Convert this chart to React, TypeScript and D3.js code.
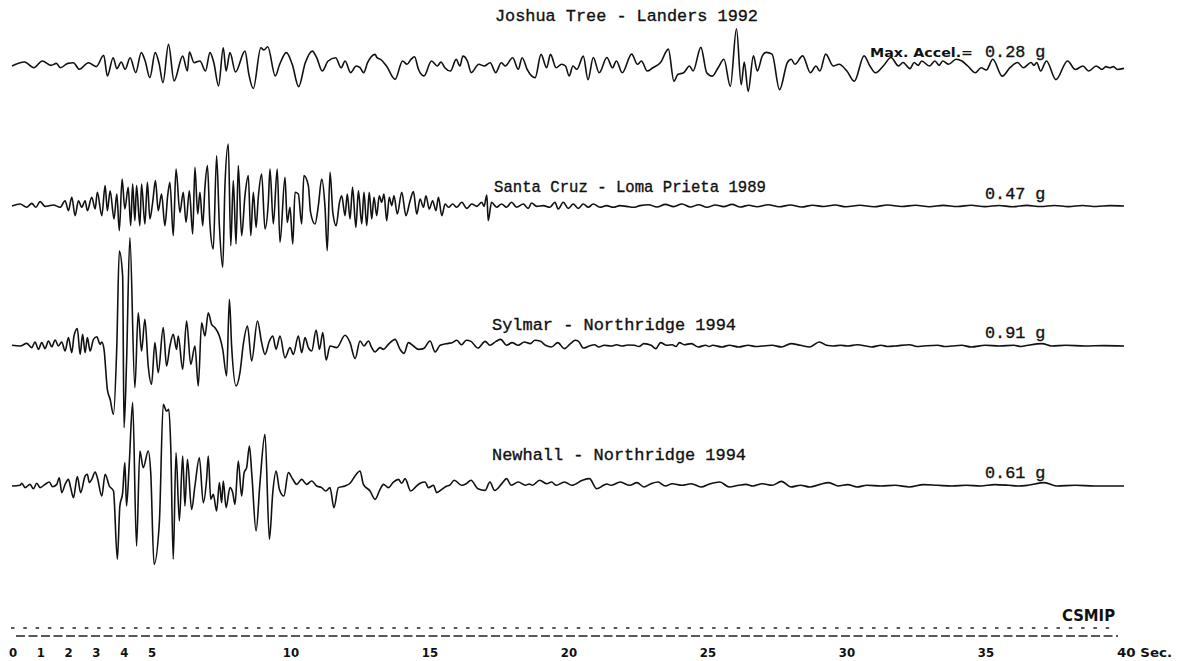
import React from 'react';
import * as d3 from 'd3';

// ---------------- data (time in s, acceleration in g) ----------------
const DURATION = 40;
const TICK_SECONDS = [0, 1, 2, 3, 4, 5, 10, 15, 20, 25, 30, 35];
const RECORD_NAMES = [
  'Joshua Tree - Landers 1992',
  'Santa Cruz - Loma Prieta 1989',
  'Sylmar - Northridge 1994',
  'Newhall - Northridge 1994',
];
const PEAK_ACCEL_G = [0.28, 0.47, 0.91, 0.61];

const joshuaTree: [number, number][] = [
  [0.0, 0], [0.45, 0.030], [0.79, -0.013], [1.09, 0.038], [1.40, 0.005], [1.60, 0.020], [1.74, -0.013],
  [2.01, 0.020], [2.21, 0.025], [2.42, -0.025], [2.75, 0.025], [3.03, -0.005], [3.30, 0.081], [3.43, -0.075],
  [3.64, 0.063], [3.77, -0.020], [3.93, 0.030], [4.07, -0.025], [4.25, 0.063], [4.45, -0.050], [4.65, 0.101],
  [4.79, 0.038], [4.96, -0.088], [5.15, 0.101], [5.29, 0.020], [5.43, -0.126], [5.63, 0.164], [5.83, -0.113],
  [6.14, 0.075], [6.31, -0.038], [6.38, 0.106], [6.55, 0.025], [6.76, 0.038], [6.96, -0.038], [7.12, 0.101],
  [7.26, 0.025], [7.43, -0.151], [7.60, 0.138], [7.70, -0.038], [7.84, 0.101], [8.04, -0.045], [8.38, 0.113],
  [8.52, -0.063], [8.68, -0.171], [8.95, 0.138], [9.06, 0.121], [9.20, 0.146], [9.47, -0.075], [9.63, 0.013],
  [9.87, 0.101], [10.08, 0.013], [10.31, -0.156], [10.55, 0.025], [10.80, 0.113], [10.96, 0.063], [11.16, -0.038],
  [11.37, 0.038], [11.64, 0.063], [11.84, -0.013], [11.98, 0.038], [12.18, -0.050], [12.38, 0], [12.52, -0.013],
  [12.65, -0.050], [12.79, 0.025], [13.06, 0.088], [13.13, 0.063], [13.26, 0.050], [13.47, 0], [13.78, -0.101],
  [14.05, 0.038], [14.21, 0.013], [14.35, 0.050], [14.48, 0.070], [14.62, -0.025], [14.82, -0.075], [15.09, 0.038],
  [15.30, 0], [15.43, 0.030], [15.57, -0.013], [15.77, -0.038], [15.98, 0.050], [16.11, 0], [16.22, 0.075],
  [16.38, 0.038], [16.52, -0.050], [16.79, 0.013], [16.99, 0], [17.20, 0.025], [17.40, -0.050], [17.60, 0.025],
  [17.74, 0], [18.01, 0.063], [18.21, -0.025], [18.35, 0.063], [18.53, -0.025], [18.69, -0.075], [18.82, -0.088],
  [19.03, 0.088], [19.23, -0.013], [19.37, 0.088], [19.57, -0.013], [19.77, 0.013], [19.91, 0], [20.04, -0.075],
  [20.18, 0], [20.32, -0.025], [20.55, 0.075], [20.72, -0.103], [20.91, 0.064], [21.12, -0.051], [21.40, 0.064],
  [21.60, -0.013], [21.74, 0.038], [21.95, -0.051], [22.29, 0.090], [22.50, 0.013], [22.64, 0.038], [22.85, -0.038],
  [23.05, -0.013], [23.33, 0.026], [23.61, 0.128], [23.81, -0.115], [23.95, -0.064], [24.16, -0.051], [24.37, 0],
  [24.50, -0.038], [24.78, 0.141], [24.99, -0.051], [25.19, -0.077], [25.40, -0.013], [25.61, 0.051], [25.84, -0.154],
  [26.06, 0.282], [26.23, -0.141], [26.34, 0.030], [26.48, -0.192], [26.67, 0.077], [26.81, -0.038], [26.99, 0.077],
  [27.13, 0.103], [27.34, 0.090], [27.61, -0.179], [27.89, 0.026], [28.03, 0.051], [28.16, 0.013], [28.44, 0.077],
  [28.72, -0.051], [28.92, 0], [29.06, -0.038], [29.27, 0.090], [29.54, 0], [29.75, 0.013], [30.03, -0.038],
  [30.30, -0.115], [30.65, 0.077], [30.86, 0], [31.06, -0.051], [31.34, 0], [31.62, 0.064], [31.89, 0],
  [32.05, 0.026], [32.30, -0.020], [32.45, 0.026], [32.60, 0.005], [32.72, 0.038], [33.00, 0], [33.20, 0.038],
  [33.35, 0.005], [33.48, 0.038], [33.69, 0.013], [33.96, 0.051], [34.17, 0.038], [34.38, 0], [34.65, -0.051],
  [34.86, -0.013], [35.05, -0.030], [35.28, 0.051], [35.62, -0.077], [35.90, -0.013], [36.17, 0.026], [36.38, -0.013],
  [36.66, 0.026], [36.76, 0.005], [36.86, 0.026], [37.00, -0.038], [37.21, 0.038], [37.55, -0.103], [37.97, 0.038],
  [38.25, -0.026], [38.52, 0], [38.73, -0.038], [39.00, 0], [39.21, -0.026], [39.35, -0.005], [39.49, -0.013],
  [39.62, -0.005], [39.76, -0.026], [40.0, -0.018],
];

const santaCruz: [number, number][] = [
  [0.0, 0], [0.29, 0.015], [0.53, -0.010], [0.71, 0.020], [0.86, -0.010], [1.01, 0.033], [1.19, -0.003],
  [1.49, 0.008], [1.73, -0.010], [1.91, 0.040], [2.03, -0.035], [2.15, 0.066], [2.27, -0.073], [2.39, 0.040],
  [2.51, -0.010], [2.63, 0.040], [2.71, -0.035], [2.87, 0.066], [2.99, -0.023], [3.07, 0.104], [3.23, -0.073],
  [3.35, 0.154], [3.43, -0.035], [3.53, 0.116], [3.67, -0.098], [3.77, 0.091], [3.86, -0.187], [3.96, 0.205],
  [4.06, -0.023], [4.18, 0.141], [4.27, -0.149], [4.34, 0.167], [4.42, -0.111], [4.48, 0.154], [4.60, -0.149],
  [4.66, 0.167], [4.78, -0.136], [4.87, 0.179], [4.96, -0.098], [5.06, 0.028], [5.16, 0.192], [5.26, -0.035],
  [5.38, 0.091], [5.50, -0.149], [5.60, 0.078], [5.68, 0.179], [5.80, -0.225], [5.90, 0.280], [6.04, -0.048],
  [6.16, 0.104], [6.26, -0.124], [6.38, 0.116], [6.50, -0.212], [6.58, 0.293], [6.68, -0.061], [6.76, 0.104],
  [6.86, -0.149], [6.94, 0.141], [7.03, 0.306], [7.12, -0.136], [7.24, -0.326], [7.36, 0.381], [7.46, -0.149],
  [7.58, -0.465], [7.66, 0.154], [7.78, 0.470], [7.87, -0.301], [7.96, 0.192], [8.06, -0.288], [8.14, 0.306],
  [8.26, -0.225], [8.38, 0.078], [8.50, 0.230], [8.59, -0.225], [8.68, 0.104], [8.78, -0.162], [8.86, 0.066],
  [8.98, 0.242], [9.10, -0.174], [9.22, 0.028], [9.28, 0.280], [9.40, -0.136], [9.54, 0.280], [9.64, -0.275],
  [9.82, 0.217], [9.90, -0.124], [10.00, -0.010], [10.10, -0.288], [10.18, 0.104], [10.30, 0.091], [10.42, -0.136],
  [10.50, 0.230], [10.66, 0.154], [10.74, -0.048], [10.90, -0.136], [11.02, 0.003], [11.14, 0.205], [11.26, -0.010],
  [11.34, -0.338], [11.44, 0.255], [11.54, -0.048], [11.66, -0.149], [11.78, 0.028], [11.86, 0.078], [11.98, -0.073],
  [12.06, 0.091], [12.16, -0.098], [12.25, 0.141], [12.37, -0.162], [12.46, 0.116], [12.58, -0.136], [12.66, 0.104],
  [12.76, -0.149], [12.85, 0.104], [12.94, -0.098], [13.02, 0.066], [13.12, -0.073], [13.21, 0.078], [13.30, 0.028],
  [13.38, 0.091], [13.48, -0.111], [13.57, 0.066], [13.66, 0.003], [13.74, 0.078], [13.86, -0.061], [14.02, 0.104],
  [14.17, -0.073], [14.32, 0.040], [14.44, 0.109], [14.56, -0.061], [14.68, 0.053], [14.80, -0.010], [14.89, 0.078],
  [15.01, -0.023], [15.13, 0.040], [15.25, -0.035], [15.34, 0.066], [15.46, -0.073], [15.58, 0.015], [15.70, -0.010],
  [15.85, 0.015], [16.00, -0.010], [16.18, 0.028], [16.36, -0.018], [16.54, 0.015], [16.72, -0.003], [16.90, 0.028],
  [16.98, -0.003], [17.08, 0.083], [17.13, -0.111], [17.25, 0.028], [17.43, -0.010], [17.61, 0.015], [17.79, -0.010],
  [17.97, 0.028], [18.15, -0.010], [18.39, 0.015], [18.57, -0.018], [18.69, 0.023], [18.87, -0.003], [19.11, 0.003],
  [19.35, -0.010], [19.53, 0.028], [19.65, -0.023], [19.83, 0.028], [20.01, -0.018], [20.19, 0.015], [20.37, -0.018],
  [20.55, 0.015], [20.73, -0.010], [20.91, 0.015], [21.15, -0.010], [21.39, 0.003], [21.63, -0.010], [21.87, 0.003],
  [22.11, -0.003], [22.35, -0.010], [22.59, 0.003], [22.90, 0.010], [23.20, -0.008], [23.50, 0.012], [23.80, -0.005],
  [24.10, 0.015], [24.40, -0.008], [24.70, 0.010], [25.00, -0.010], [25.30, 0.008], [25.60, -0.005], [25.90, 0.012],
  [26.20, -0.008], [26.50, 0.006], [26.80, -0.006], [27.20, 0.010], [27.60, -0.006], [28.00, 0.008], [28.40, -0.008],
  [28.80, 0.006], [29.20, -0.004], [29.60, 0.008], [30.00, -0.006], [30.50, 0.006], [31.00, -0.006], [31.50, 0.008],
  [32.00, -0.004], [32.50, 0.006], [33.00, -0.006], [33.50, 0.005], [34.00, -0.004], [34.50, 0.006], [35.00, -0.005],
  [35.50, 0.004], [36.00, -0.006], [36.50, 0.005], [37.00, -0.004], [37.50, 0.004], [38.00, -0.005], [38.50, 0.004],
  [39.00, -0.004], [39.50, 0.003], [40.0, 0],
];

const sylmar: [number, number][] = [
  [0.0, 0.006], [0.29, 0], [0.53, 0.022], [0.71, -0.014], [0.83, 0.034], [0.95, -0.028], [1.07, 0.028],
  [1.19, -0.022], [1.31, 0.042], [1.43, -0.006], [1.55, 0.050], [1.67, 0], [1.79, 0.034], [1.91, -0.042],
  [2.03, 0.070], [2.15, -0.056], [2.23, 0.084], [2.35, 0.146], [2.45, -0.070], [2.54, 0.098], [2.63, -0.056],
  [2.71, 0.070], [2.81, -0.042], [2.93, 0.056], [3.05, 0.078], [3.17, 0.014], [3.23, 0.034], [3.31, -0.028],
  [3.43, -0.364], [3.53, -0.448], [3.65, -0.574], [3.77, 0], [3.86, 0.798], [3.98, 0.588], [4.03, -0.686],
  [4.12, -0.140], [4.24, 0.910], [4.42, -0.350], [4.54, 0.280], [4.66, -0.042], [4.78, 0.224], [4.90, -0.168],
  [5.02, -0.322], [5.14, 0.028], [5.26, -0.224], [5.44, 0.154], [5.56, -0.168], [5.68, 0], [5.80, 0.098],
  [5.92, -0.028], [5.98, 0.084], [6.14, -0.196], [6.28, 0.210], [6.43, -0.154], [6.58, 0], [6.70, -0.336],
  [6.82, 0.196], [6.94, 0.084], [7.06, 0.280], [7.18, 0.182], [7.30, 0.154], [7.46, 0.084], [7.58, -0.028],
  [7.72, -0.252], [7.82, 0.392], [7.90, 0], [8.06, -0.336], [8.20, -0.224], [8.32, 0.014], [8.47, 0.168],
  [8.62, -0.126], [8.83, 0.210], [8.98, 0.028], [9.10, -0.070], [9.26, 0.042], [9.38, 0.084], [9.50, -0.028],
  [9.64, 0.084], [9.82, -0.098], [10.00, -0.014], [10.12, -0.070], [10.30, 0.084], [10.42, -0.056], [10.54, 0.070],
  [10.66, -0.014], [10.78, -0.042], [10.94, 0.134], [11.06, -0.028], [11.18, 0.112], [11.30, -0.118], [11.44, 0],
  [11.68, -0.014], [11.98, 0.090], [12.16, 0.028], [12.34, -0.106], [12.52, 0.042], [12.66, 0], [12.82, 0.042],
  [12.94, -0.014], [13.06, -0.050], [13.24, -0.014], [13.36, -0.028], [13.54, 0.014], [13.78, 0.056], [13.96, -0.028],
  [14.10, -0.062], [14.26, 0.028], [14.44, 0], [14.62, -0.028], [14.80, -0.022], [15.04, 0.042], [15.22, -0.050],
  [15.40, 0.006], [15.70, 0.022], [15.83, 0.028], [16.00, 0.048], [16.17, 0.011], [16.34, 0.048], [16.51, 0.039],
  [16.76, -0.017], [17.02, 0.039], [17.19, 0.006], [17.41, 0.039], [17.58, 0.056], [17.79, 0.006], [17.99, 0.028],
  [18.21, 0.006], [18.43, 0.034], [18.64, 0.020], [18.81, 0.048], [19.01, 0.039], [19.19, 0.006], [19.41, -0.008],
  [19.63, 0.028], [19.87, -0.022], [20.09, 0.020], [20.26, 0.048], [20.38, 0.039], [20.55, -0.017], [20.77, 0],
  [20.95, 0.010], [21.11, -0.008], [21.30, 0.006], [21.54, 0], [21.75, 0.010], [21.96, 0], [22.15, 0.008],
  [22.39, 0.006], [22.55, -0.004], [22.73, 0.020], [22.99, 0.006], [23.16, -0.022], [23.33, 0.028], [23.55, 0.006],
  [23.75, 0.011], [23.88, -0.004], [24.01, 0.028], [24.18, 0.011], [24.44, 0.020], [24.69, -0.008], [24.95, 0.006],
  [25.08, -0.004], [25.20, 0.006], [25.54, -0.008], [25.80, 0.006], [26.14, -0.008], [26.48, 0.006], [26.75, -0.004],
  [26.99, 0], [27.34, 0.006], [27.68, -0.008], [28.02, 0.020], [28.36, 0.006], [28.70, -0.008], [29.04, 0.034],
  [29.30, 0.006], [29.55, 0], [29.80, 0.006], [30.06, 0], [30.40, 0.011], [30.92, -0.008], [31.26, 0.006],
  [31.50, -0.004], [31.77, 0], [32.28, 0.011], [32.55, -0.004], [32.79, 0], [33.30, 0.006], [33.55, -0.004],
  [33.81, 0], [34.16, 0.006], [34.50, -0.008], [35.01, 0.006], [35.52, 0], [36.03, 0.006], [36.30, -0.004],
  [36.54, 0.006], [37.05, 0.020], [37.40, 0], [37.91, 0.006], [38.59, 0], [39.27, 0.003], [40.0, 0],
];

const newhall: [number, number][] = [
  [0.0, 0], [0.29, 0.005], [0.35, 0.020], [0.47, -0.012], [0.65, 0.012], [0.77, -0.020], [0.89, 0.020],
  [1.01, -0.012], [1.19, 0.012], [1.34, 0.029], [1.46, -0.005], [1.61, 0.012], [1.70, 0.061], [1.79, -0.049],
  [1.91, 0.012], [2.03, 0.049], [2.11, -0.012], [2.21, -0.086], [2.35, 0.069], [2.47, -0.049], [2.63, 0.074],
  [2.71, 0.086], [2.78, 0.025], [2.87, 0.049], [2.99, 0.103], [3.07, 0.061], [3.23, -0.074], [3.35, 0.086],
  [3.50, 0], [3.65, -0.037], [3.79, -0.539], [3.88, -0.147], [3.98, -0.049], [4.06, 0.172], [4.12, -0.147],
  [4.22, 0.172], [4.34, 0.613], [4.48, -0.441], [4.60, 0.257], [4.72, 0.135], [4.90, 0.257], [4.99, 0.098],
  [5.11, -0.576], [5.30, -0.270], [5.44, 0.600], [5.56, 0.551], [5.64, 0.564], [5.71, 0.294], [5.80, -0.539],
  [5.90, 0.245], [6.02, -0.257], [6.14, 0.221], [6.22, -0.147], [6.31, 0.196], [6.46, -0.172], [6.58, 0],
  [6.74, 0.208], [6.88, -0.123], [7.00, 0.049], [7.06, 0.221], [7.15, -0.098], [7.24, -0.061], [7.36, -0.184],
  [7.46, 0.025], [7.54, -0.123], [7.60, 0.037], [7.70, -0.159], [7.84, -0.012], [7.94, -0.049], [8.02, -0.135],
  [8.14, 0.184], [8.26, -0.074], [8.35, 0.098], [8.44, 0.135], [8.54, 0.294], [8.63, 0.074], [8.78, -0.331],
  [8.92, 0.025], [9.10, 0.380], [9.26, -0.392], [9.38, -0.049], [9.50, 0.110], [9.62, -0.025], [9.78, -0.074],
  [9.94, 0.098], [10.10, 0.049], [10.24, 0.012], [10.42, 0.049], [10.60, 0.012], [10.78, 0.037], [10.96, 0],
  [11.14, -0.012], [11.29, -0.037], [11.44, -0.012], [11.58, -0.159], [11.74, -0.012], [11.98, 0], [12.16, 0.020],
  [12.34, 0.074], [12.52, 0.110], [12.64, 0.012], [12.88, -0.037], [13.06, -0.098], [13.24, -0.025], [13.36, 0.012],
  [13.54, -0.012], [13.72, 0.029], [13.90, 0.049], [14.02, 0.020], [14.14, 0.054], [14.34, -0.037], [14.53, -0.005],
  [14.68, 0.020], [14.86, 0.029], [14.98, -0.012], [15.16, 0.005], [15.28, -0.049], [15.46, -0.025], [15.64, 0],
  [15.74, 0.005], [15.91, 0.042], [16.17, 0.005], [16.34, 0.017], [16.51, 0.042], [16.76, -0.020], [17.02, -0.032],
  [17.19, 0.029], [17.36, -0.032], [17.62, 0.017], [17.79, 0.054], [17.96, 0.005], [18.21, 0.029], [18.47, 0.005],
  [18.60, 0.015], [18.72, 0.005], [18.98, 0.042], [19.24, 0.017], [19.41, 0.029], [19.58, 0.005], [19.87, 0.029],
  [20.14, 0.005], [20.52, 0.042], [20.77, 0.054], [21.03, -0.020], [21.28, 0.005], [21.40, 0.015], [21.54, 0.005],
  [21.88, 0.029], [22.22, 0.005], [22.48, 0.025], [22.73, -0.007], [22.99, 0.017], [23.24, 0.029], [23.50, 0],
  [23.75, 0.017], [24.10, 0.005], [24.44, 0.017], [24.78, -0.007], [25.12, 0.017], [25.46, 0.029], [25.80, -0.007],
  [26.14, 0.005], [26.40, 0.012], [26.65, 0], [26.99, 0.017], [27.34, 0.005], [27.68, 0.034], [28.02, -0.007],
  [28.36, 0.005], [28.70, -0.007], [29.04, 0.010], [29.38, 0.025], [29.72, 0], [30.06, 0.010], [30.40, -0.007],
  [30.75, 0.005], [31.26, 0], [31.77, 0.005], [32.28, -0.007], [32.79, 0.010], [33.30, 0.005], [33.81, 0],
  [34.33, 0.005], [34.84, 0], [35.35, 0.010], [35.86, 0.005], [36.20, 0], [36.54, 0.005], [37.14, 0.025],
  [37.57, 0], [38.25, 0.005], [38.93, 0], [40.0, 0],
];

const RECORDS = [joshuaTree, santaCruz, sylmar, newhall];

// ---------------- layout ----------------
const W = 1181;
const H = 661;
const X_LEFT = 12;
const X_RIGHT = 1124;
const BASELINES = [66, 206, 346, 486];
const PX_PER_G = [132, 132, 119, 136];
const NAME_X = [495, 494, 492, 492];
const NAME_Y = [21, 192, 330, 460];
const NAME_WIDTH = [263, 272, 244, 254];
const PGA_Y = [57, 199, 338, 478];
const MONO = "'Liberation Mono', 'DejaVu Sans Mono', monospace";
const PLOT_FONT = "'DejaVu Sans Condensed', 'Liberation Sans Narrow', 'DejaVu Sans', sans-serif";

export default function App() {
  const x = d3.scaleLinear().domain([0, DURATION]).range([X_LEFT, X_RIGHT]);

  const paths = RECORDS.map((rec, i) => {
    const pga = PEAK_ACCEL_G[i];
    const y = d3
      .scaleLinear()
      .domain([-pga, pga])
      .range([BASELINES[i] + pga * PX_PER_G[i], BASELINES[i] - pga * PX_PER_G[i]]);
    const line = d3
      .line<[number, number]>()
      .x((d) => x(d[0]))
      .y((d) => y(d[1]))
      .curve(d3.curveMonotoneX);
    return line(rec) || '';
  });

  return (
    <svg
      width={W}
      height={H}
      viewBox={`0 0 ${W} ${H}`}
      style={{ position: 'absolute', left: 0, top: 0, background: '#fff' }}
    >
      <rect x={0} y={0} width={W} height={H} fill="#fff" />
      {paths.map((p, i) => (
        <path key={i} d={p} fill="none" stroke="#111" strokeWidth={1.6} strokeLinejoin="round" />
      ))}
      {RECORD_NAMES.map((name, i) => (
        <text
          key={name}
          x={NAME_X[i]}
          y={NAME_Y[i]}
          fontFamily={MONO}
          fontSize={16.8}
          fill="#111"
          stroke="#111"
          strokeWidth={0.35}
          textLength={NAME_WIDTH[i]}
          lengthAdjust="spacingAndGlyphs"
        >
          {name}
        </text>
      ))}
      {PEAK_ACCEL_G.map((g, i) => (
        <text
          key={'pga' + i}
          x={x(35)}
          y={PGA_Y[i]}
          fontFamily={MONO}
          fontSize={16.8}
          fill="#111"
          stroke="#111"
          strokeWidth={0.35}
        >
          {g.toFixed(2) + ' g'}
        </text>
      ))}
      <text
        x={870}
        y={PGA_Y[0]}
        fontFamily={PLOT_FONT}
        fontSize={12}
        fontWeight="bold"
        fill="#111"
        textLength={103}
        lengthAdjust="spacingAndGlyphs"
      >
        Max. Accel.=
      </text>
      {/* time axis */}
      <line x1={11} x2={1113} y1={628} y2={628} stroke="#222" strokeWidth={1.4} strokeDasharray="3.5 8.8" />
      <line x1={16} x2={1118} y1={636} y2={636} stroke="#222" strokeWidth={1.6} strokeDasharray="9 3.5" />
      {TICK_SECONDS.map((s) => (
        <text
          key={'t' + s}
          x={x(s) + 1}
          y={657}
          textAnchor="middle"
          fontFamily={PLOT_FONT}
          fontSize={13}
          fontWeight="bold"
          fill="#111"
        >
          {s}
        </text>
      ))}
      <text
        x={x(DURATION) - 7}
        y={657}
        fontFamily={PLOT_FONT}
        fontSize={13}
        fontWeight="bold"
        fill="#111"
        textLength={55}
        lengthAdjust="spacingAndGlyphs"
      >
        {DURATION + ' Sec.'}
      </text>
      <text
        x={1062}
        y={621}
        fontFamily={PLOT_FONT}
        fontSize={16}
        fontWeight="bold"
        fill="#111"
        textLength={53}
        lengthAdjust="spacingAndGlyphs"
      >
        CSMIP
      </text>
    </svg>
  );
}
